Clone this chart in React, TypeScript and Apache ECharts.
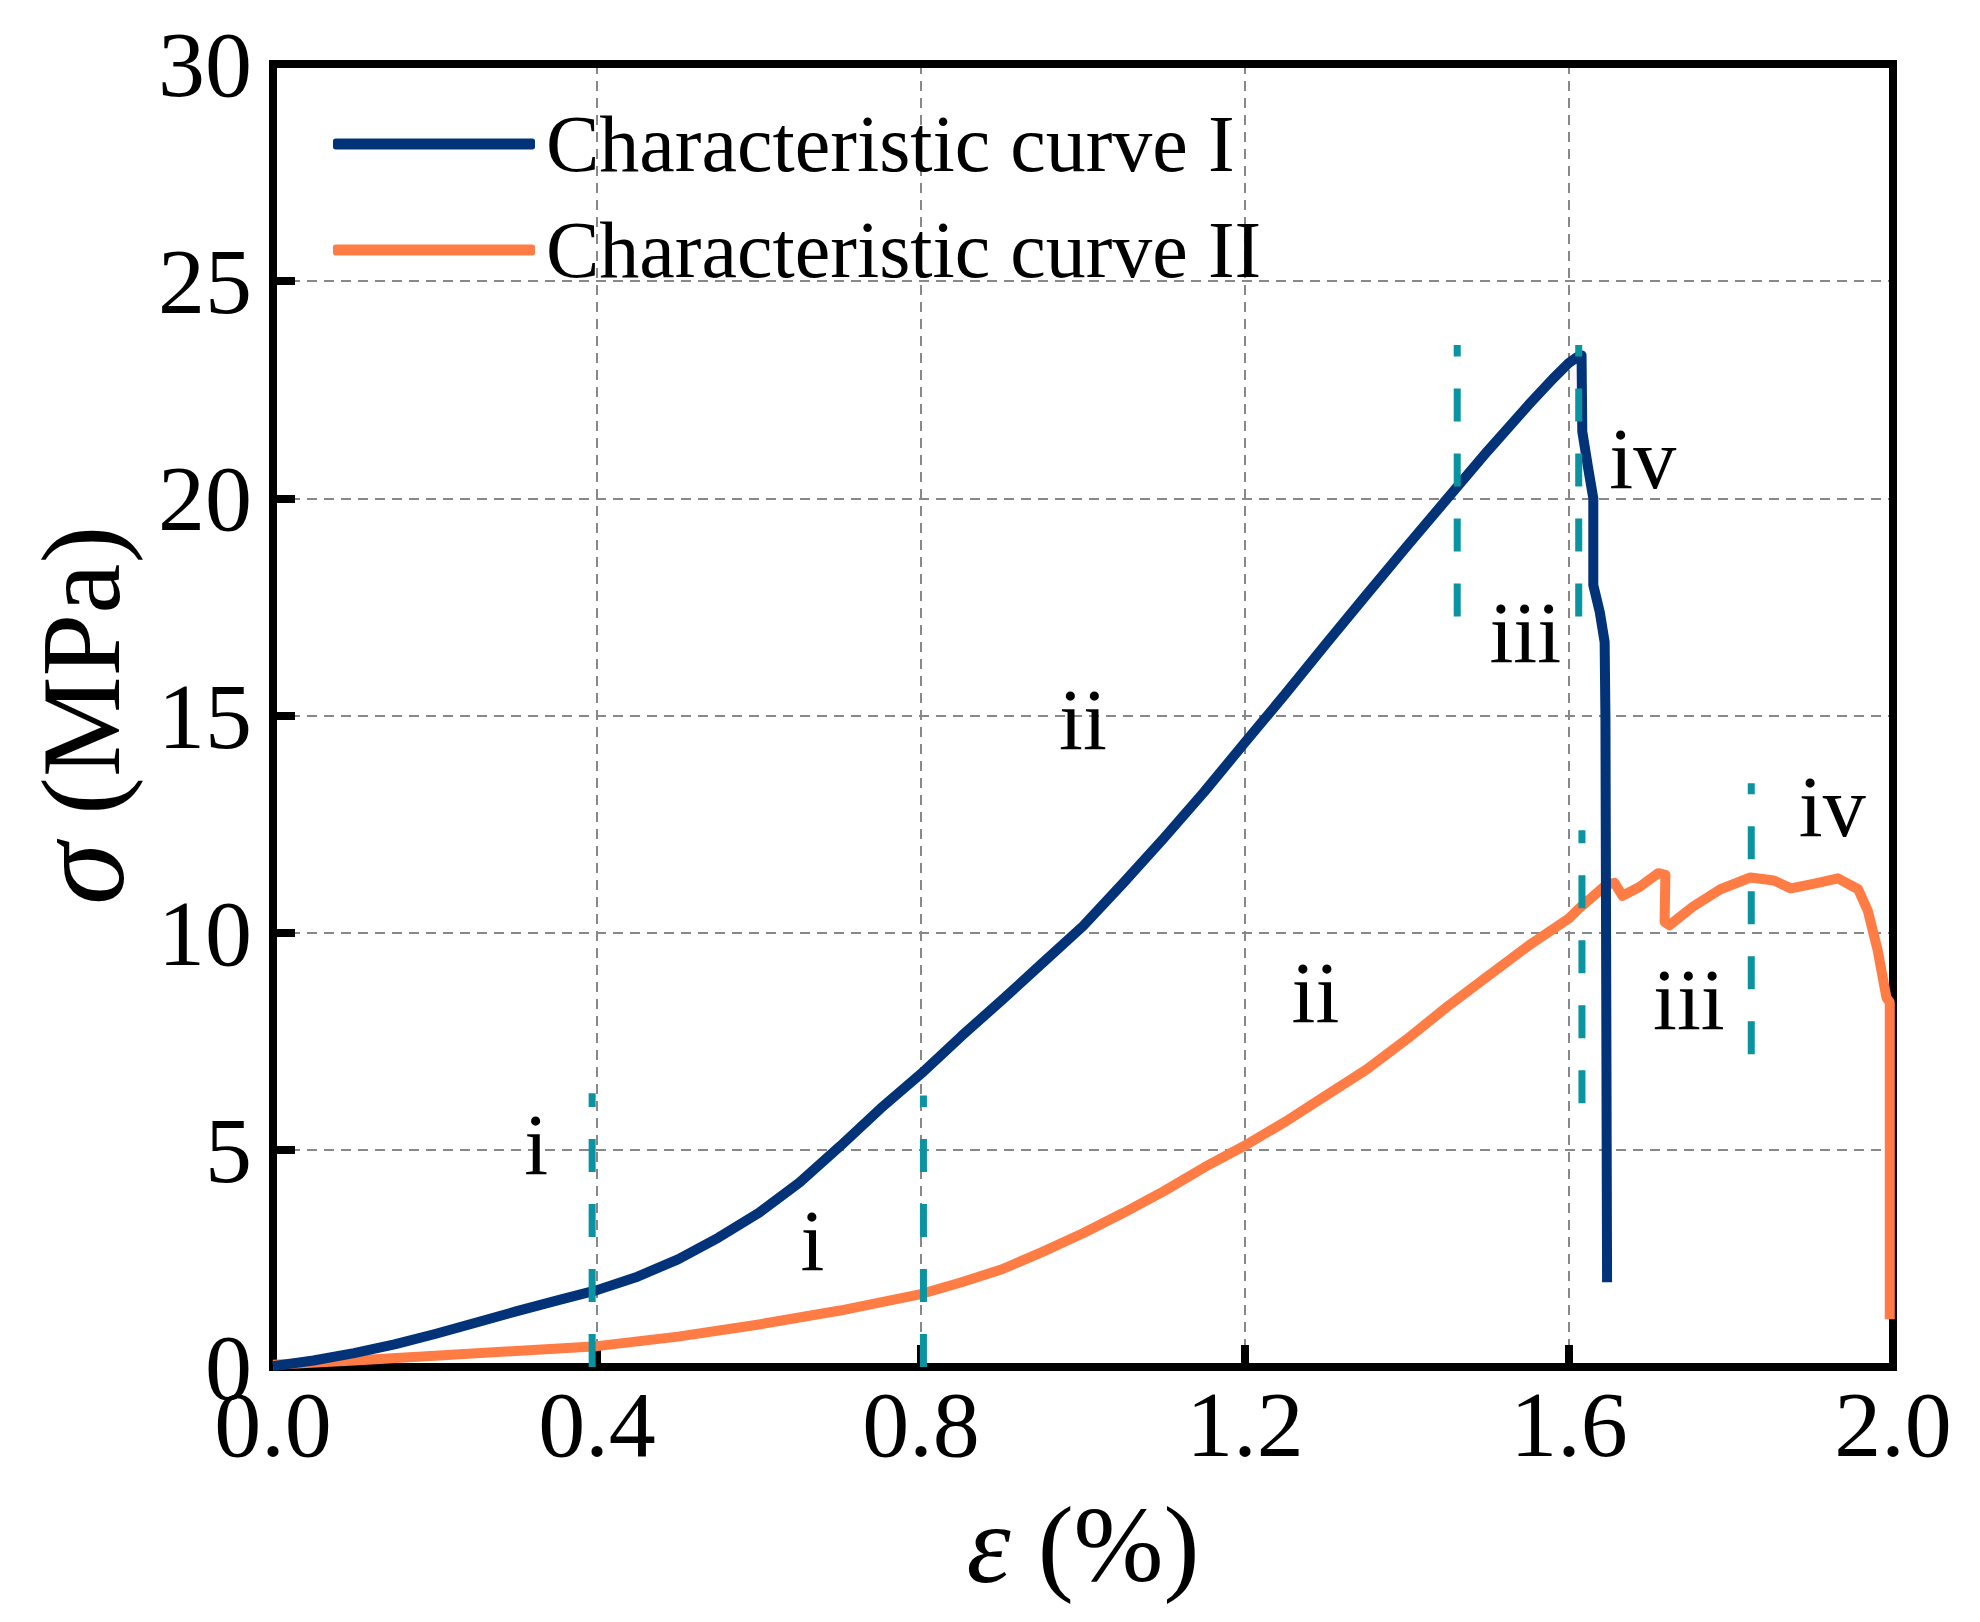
import React, { useEffect, useRef } from 'react';
import * as echarts from 'echarts';

const SERIF = "'Liberation Serif', 'Times New Roman', serif";

// characteristic curve I (strain %, stress MPa)
const curveIStrain = [0, 0.05, 0.1, 0.15, 0.2, 0.25, 0.3, 0.35, 0.4, 0.45, 0.5, 0.55, 0.6, 0.65, 0.7, 0.75, 0.8, 0.85, 0.9, 0.95, 1.0, 1.05, 1.1, 1.15, 1.2, 1.25, 1.3, 1.35, 1.4, 1.45, 1.5, 1.55, 1.58, 1.6, 1.61, 1.6155, 1.6164, 1.6237, 1.63, 1.63, 1.638, 1.644, 1.645, 1.647];
const curveIStress = [0.02, 0.15, 0.32, 0.52, 0.76, 1.02, 1.28, 1.53, 1.77, 2.08, 2.48, 2.98, 3.55, 4.25, 5.08, 5.95, 6.75, 7.62, 8.45, 9.3, 10.15, 11.15, 12.18, 13.25, 14.38, 15.5, 16.65, 17.78, 18.9, 20.0, 21.1, 22.15, 22.75, 23.12, 23.25, 23.29, 21.54, 20.69, 20.0, 18.0, 17.38, 16.69, 14.9, 1.95];

// characteristic curve II
const curveIIStrain = [0, 0.1, 0.2, 0.3, 0.4, 0.5, 0.6, 0.7, 0.8, 0.85, 0.9, 0.95, 1.0, 1.05, 1.1, 1.15, 1.2, 1.25, 1.3, 1.35, 1.4, 1.45, 1.5, 1.55, 1.6, 1.612, 1.646, 1.656, 1.666, 1.687, 1.71, 1.719, 1.718, 1.724, 1.753, 1.787, 1.824, 1.853, 1.874, 1.903, 1.932, 1.957, 1.969, 1.981, 1.992, 1.996, 1.996];
const curveIIStress = [0.05, 0.15, 0.26, 0.37, 0.48, 0.7, 0.98, 1.3, 1.68, 1.95, 2.25, 2.65, 3.08, 3.55, 4.05, 4.6, 5.1, 5.65, 6.25, 6.85, 7.55, 8.3, 9.0, 9.7, 10.33, 10.55, 11.1, 11.15, 10.85, 11.05, 11.37, 11.33, 10.25, 10.17, 10.6, 11.0, 11.27, 11.2, 11.02, 11.13, 11.25, 11.0, 10.5, 9.6, 8.5, 8.4, 1.1];

// stage boundaries (teal dashed lines)
const phaseX = [0.394, 0.803, 1.462, 1.612, 1.616, 1.825];
const phaseBottom = [0, 0, 17.28, 17.28, 6.07, 7.2];
const phaseTop = [6.3, 6.25, 23.53, 23.53, 12.36, 13.44];

// stage labels
const stageText = ['i', 'i', 'ii', 'ii', 'iii', 'iii', 'iv', 'iv'];
const stageX = [0.325, 0.666, 1.0, 1.287, 1.546, 1.748, 1.691, 1.925];
const stageY = [5.1, 2.9, 14.9, 8.6, 16.9, 8.45, 20.9, 12.9];

const xTicks = [0, 0.4, 0.8, 1.2, 1.6, 2.0];
const yTicks = [0, 5, 10, 15, 20, 25, 30];

const seriesNames = ['Characteristic curve I', 'Characteristic curve II'];
const BLUE = '#023378';
const ORANGE = '#ff7c45';
const TEAL = '#0a93a0';

const App = () => {
  const chartRef = useRef(null);

  useEffect(() => {
    if (!chartRef.current) return;
    const chart = echarts.init(chartRef.current, null, { renderer: 'svg' });

    const phaseSeries = phaseX.map((x, i) => ({
      type: 'line',
      name: 'phase' + i,
      data: [
        [x, phaseBottom[i]],
        [x, phaseTop[i]],
      ],
      showSymbol: false,
      symbol: 'none',
      clip: false,
      z: 5,
      silent: true,
      lineStyle: { color: TEAL, width: 7, type: [33, 32], cap: 'butt' },
    }));

    const options = {
      animation: false,
      backgroundColor: '#fff',
      grid: {
        left: 273,
        right: 87,
        top: 64,
        bottom: 255,
        show: true,
        borderColor: '#000',
        borderWidth: 8,
        backgroundColor: 'transparent',
        z: 1,
      },
      legend: {
        data: seriesNames,
        orient: 'vertical',
        left: 328,
        top: 99,
        itemWidth: 202,
        itemHeight: 11,
        itemGap: 26,
        icon: 'roundRect',
        textStyle: {
          fontFamily: SERIF,
          fontSize: 80,
          lineHeight: 80,
          color: '#000',
          padding: [0, 0, 0, 6],
        },
      },
      xAxis: {
        type: 'value',
        min: 0,
        max: 2,
        interval: 0.4,
        name: '{i|ε} (%)',
        nameLocation: 'middle',
        nameGap: 121,
        nameTextStyle: {
          fontFamily: SERIF,
          fontSize: 108,
          color: '#000',
          rich: { i: { fontFamily: SERIF, fontSize: 112, fontStyle: 'italic', color: '#000' } },
        },
        axisLine: { onZero: false, lineStyle: { color: '#000', width: 8 } },
        axisTick: { inside: true, length: 22, lineStyle: { color: '#000', width: 8 } },
        axisLabel: {
          fontFamily: SERIF,
          fontSize: 94,
          color: '#000',
          margin: 22,
          lineHeight: 70,
          formatter: (v) => (xTicks.includes(Math.round(v * 10) / 10) ? v.toFixed(1) : ''),
        },
        splitLine: {
          show: true,
          showMinLine: false,
          showMaxLine: false,
          lineStyle: { color: '#888', width: 2, type: [10, 7] },
        },
      },
      yAxis: {
        type: 'value',
        min: 0,
        max: 30,
        interval: 5,
        name: '{i|σ} (MPa)',
        nameLocation: 'middle',
        nameGap: 130,
        nameRotate: 90,
        nameTextStyle: {
          fontFamily: SERIF,
          fontSize: 113,
          color: '#000',
          rich: { i: { fontFamily: SERIF, fontSize: 126, fontStyle: 'italic', color: '#000' } },
        },
        axisLine: { onZero: false, lineStyle: { color: '#000', width: 8 } },
        axisTick: { inside: true, length: 22, lineStyle: { color: '#000', width: 8 } },
        axisLabel: {
          fontFamily: SERIF,
          fontSize: 94,
          color: '#000',
          margin: 21,
          lineHeight: 66,
          formatter: (v) => (yTicks.includes(v) ? String(v) : ''),
        },
        splitLine: {
          show: true,
          showMinLine: false,
          showMaxLine: false,
          lineStyle: { color: '#888', width: 2, type: [10, 7] },
        },
      },
      series: [
        {
          type: 'line',
          name: seriesNames[1],
          data: curveIIStrain.map((x, i) => [x, curveIIStress[i]]),
          showSymbol: false,
          symbol: 'none',
          clip: false,
          z: 3,
          color: ORANGE,
          lineStyle: { color: ORANGE, width: 10, join: 'round' },
        },
        {
          type: 'line',
          name: seriesNames[0],
          data: curveIStrain.map((x, i) => [x, curveIStress[i]]),
          showSymbol: false,
          symbol: 'none',
          clip: false,
          z: 4,
          color: BLUE,
          lineStyle: { color: BLUE, width: 10, join: 'round' },
        },
        ...phaseSeries,
        {
          type: 'scatter',
          name: 'stages',
          data: stageText.map((t, i) => ({ name: t, value: [stageX[i], stageY[i]] })),
          symbolSize: 0,
          silent: true,
          z: 6,
          itemStyle: { opacity: 1 },
          label: {
            show: true,
            position: 'inside',
            formatter: '{b}',
            fontFamily: SERIF,
            fontSize: 86,
            color: '#000',
            opacity: 1,
          },
        },
      ],
    };

    chart.setOption(options);

    const handleResize = () => chart.resize();
    window.addEventListener('resize', handleResize);
    return () => {
      window.removeEventListener('resize', handleResize);
      chart.dispose();
    };
  }, []);

  return (
    <div
      ref={chartRef}
      style={{ position: 'absolute', left: 0, top: 0, width: '1980px', height: '1622px', background: '#fff' }}
    />
  );
};

export default App;
